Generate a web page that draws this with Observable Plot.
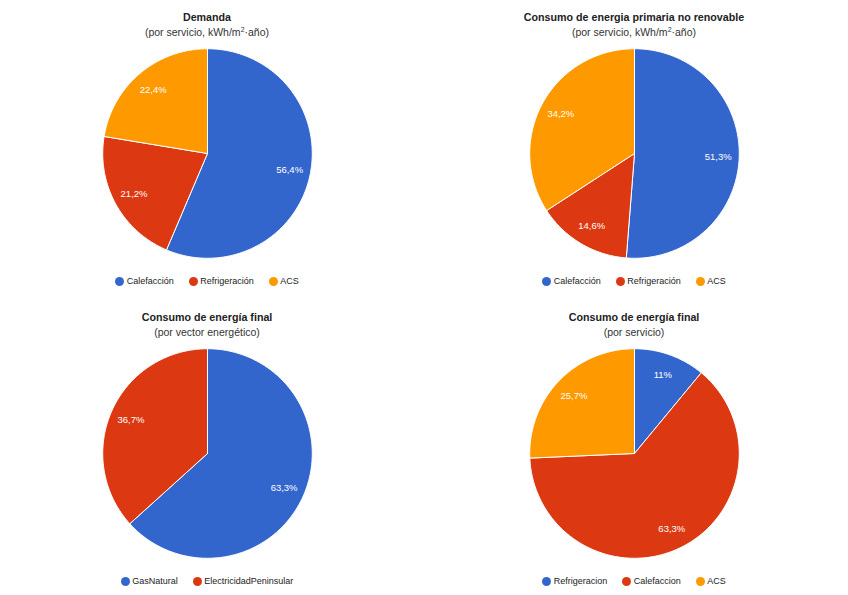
<!DOCTYPE html>
<html><head><meta charset="utf-8">
<script src="https://cdn.jsdelivr.net/npm/d3@7"></script>
<script src="https://cdn.jsdelivr.net/npm/@observablehq/plot@0.6"></script>
<style>
body{margin:0;background:#fff;font-family:Arial,"Liberation Sans",sans-serif;}
#root{position:relative;width:848px;height:595px;overflow:hidden;background:#fff;}
.title{position:absolute;width:340px;text-align:center;font-weight:bold;font-size:10.7px;line-height:12px;color:#222;white-space:nowrap;}
.sub{position:absolute;width:340px;text-align:center;font-size:10.5px;line-height:12px;color:#333;white-space:nowrap;}
.sub sup{font-size:7px;line-height:7px;vertical-align:4px;}
.legend{position:absolute;width:400px;display:flex;justify-content:center;align-items:center;font-size:9px;color:#222;line-height:12px;white-space:nowrap;}
.item{display:flex;align-items:center;margin:0 7.5px;}
.sw{width:9px;height:9px;border-radius:50%;margin-right:2.5px;}
.pie{position:absolute;}
</style></head>
<body><div id="root"></div>
<script>
const colors = ["#3366cc", "#dc3912", "#ff9900"];

const demandaLabels = ["Calefacción", "Refrigeración", "ACS"];
const demandaValues = [56.4, 21.2, 22.4];

const primariaLabels = ["Calefacción", "Refrigeración", "ACS"];
const primariaValues = [51.3, 14.6, 34.2];

const vectorLabels = ["GasNatural", "ElectricidadPeninsular"];
const vectorValues = [63.3, 36.7];

const servicioLabels = ["Refrigeracion", "Calefaccion", "ACS"];
const servicioValues = [11, 63.3, 25.7];

const titles = ["Demanda", "Consumo de energia primaria no renovable", "Consumo de energía final", "Consumo de energía final"];
const subtitles = ["(por servicio, kWh/m<sup>2</sup>·año)", "(por servicio, kWh/m<sup>2</sup>·año)", "(por vector energético)", "(por servicio)"];

const charts = [
  {labels: demandaLabels, values: demandaValues, cx: 207, top: 0},
  {labels: primariaLabels, values: primariaValues, cx: 634, top: 0},
  {labels: vectorLabels, values: vectorValues, cx: 207, top: 300},
  {labels: servicioLabels, values: servicioValues, cx: 634, top: 300}
];

function pie(labels, values) {
  const total = d3.sum(values);
  let acc = 0;
  const pts = [], lbl = [];
  labels.forEach((name, i) => {
    const a0 = acc / total * 2 * Math.PI;
    acc += values[i];
    const a1 = acc / total * 2 * Math.PI;
    const n = Math.max(2, Math.ceil((a1 - a0) / (Math.PI / 180)));
    pts.push({name, x: 0, y: 0});
    for (let k = 0; k <= n; k++) {
      const a = a0 + (a1 - a0) * k / n;
      pts.push({name, x: Math.sin(a), y: Math.cos(a)});
    }
    pts.push({name, x: 0, y: 0});
    const am = (a0 + a1) / 2;
    lbl.push({x: 0.8 * Math.sin(am), y: 0.8 * Math.cos(am), text: String(values[i]).replace(".", ",") + "%"});
  });
  return Plot.plot({
    width: 220, height: 220, margin: 0,
    x: {domain: [-1.05, 1.05], axis: null},
    y: {domain: [-1.05, 1.05], axis: null},
    color: {domain: labels, range: colors.slice(0, labels.length)},
    style: {background: "transparent", overflow: "visible"},
    marks: [
      Plot.line(pts, {x: "x", y: "y", z: "name", fill: "name", stroke: "white", strokeWidth: 1, strokeLinejoin: "round"}),
      Plot.text(lbl, {x: "x", y: "y", text: "text", fill: "white", fontSize: 9.5, fontWeight: "normal", fontFamily: "Arial, 'Liberation Sans', sans-serif"})
    ]
  });
}

const root = document.getElementById("root");
charts.forEach((c, i) => {
  const t = document.createElement("div");
  t.className = "title";
  t.style.left = (c.cx - 170) + "px";
  t.style.top = (c.top + 11) + "px";
  t.textContent = titles[i];
  root.appendChild(t);
  const s = document.createElement("div");
  s.className = "sub";
  s.style.left = (c.cx - 170) + "px";
  s.style.top = (c.top + 26) + "px";
  s.innerHTML = subtitles[i];
  root.appendChild(s);
  const p = pie(c.labels, c.values);
  p.classList.add("pie");
  p.style.left = (c.cx - 110) + "px";
  p.style.top = (c.top + 153 - 110) + "px";
  root.appendChild(p);
  const lg = document.createElement("div");
  lg.className = "legend";
  lg.style.left = (c.cx - 200) + "px";
  lg.style.top = (c.top + 275) + "px";
  c.labels.forEach((name, j) => {
    const it = document.createElement("div");
    it.className = "item";
    const sw = document.createElement("span");
    sw.className = "sw";
    sw.style.background = colors[j];
    const tx = document.createElement("span");
    tx.textContent = name;
    it.appendChild(sw); it.appendChild(tx);
    lg.appendChild(it);
  });
  root.appendChild(lg);
});
</script>
</body></html>
